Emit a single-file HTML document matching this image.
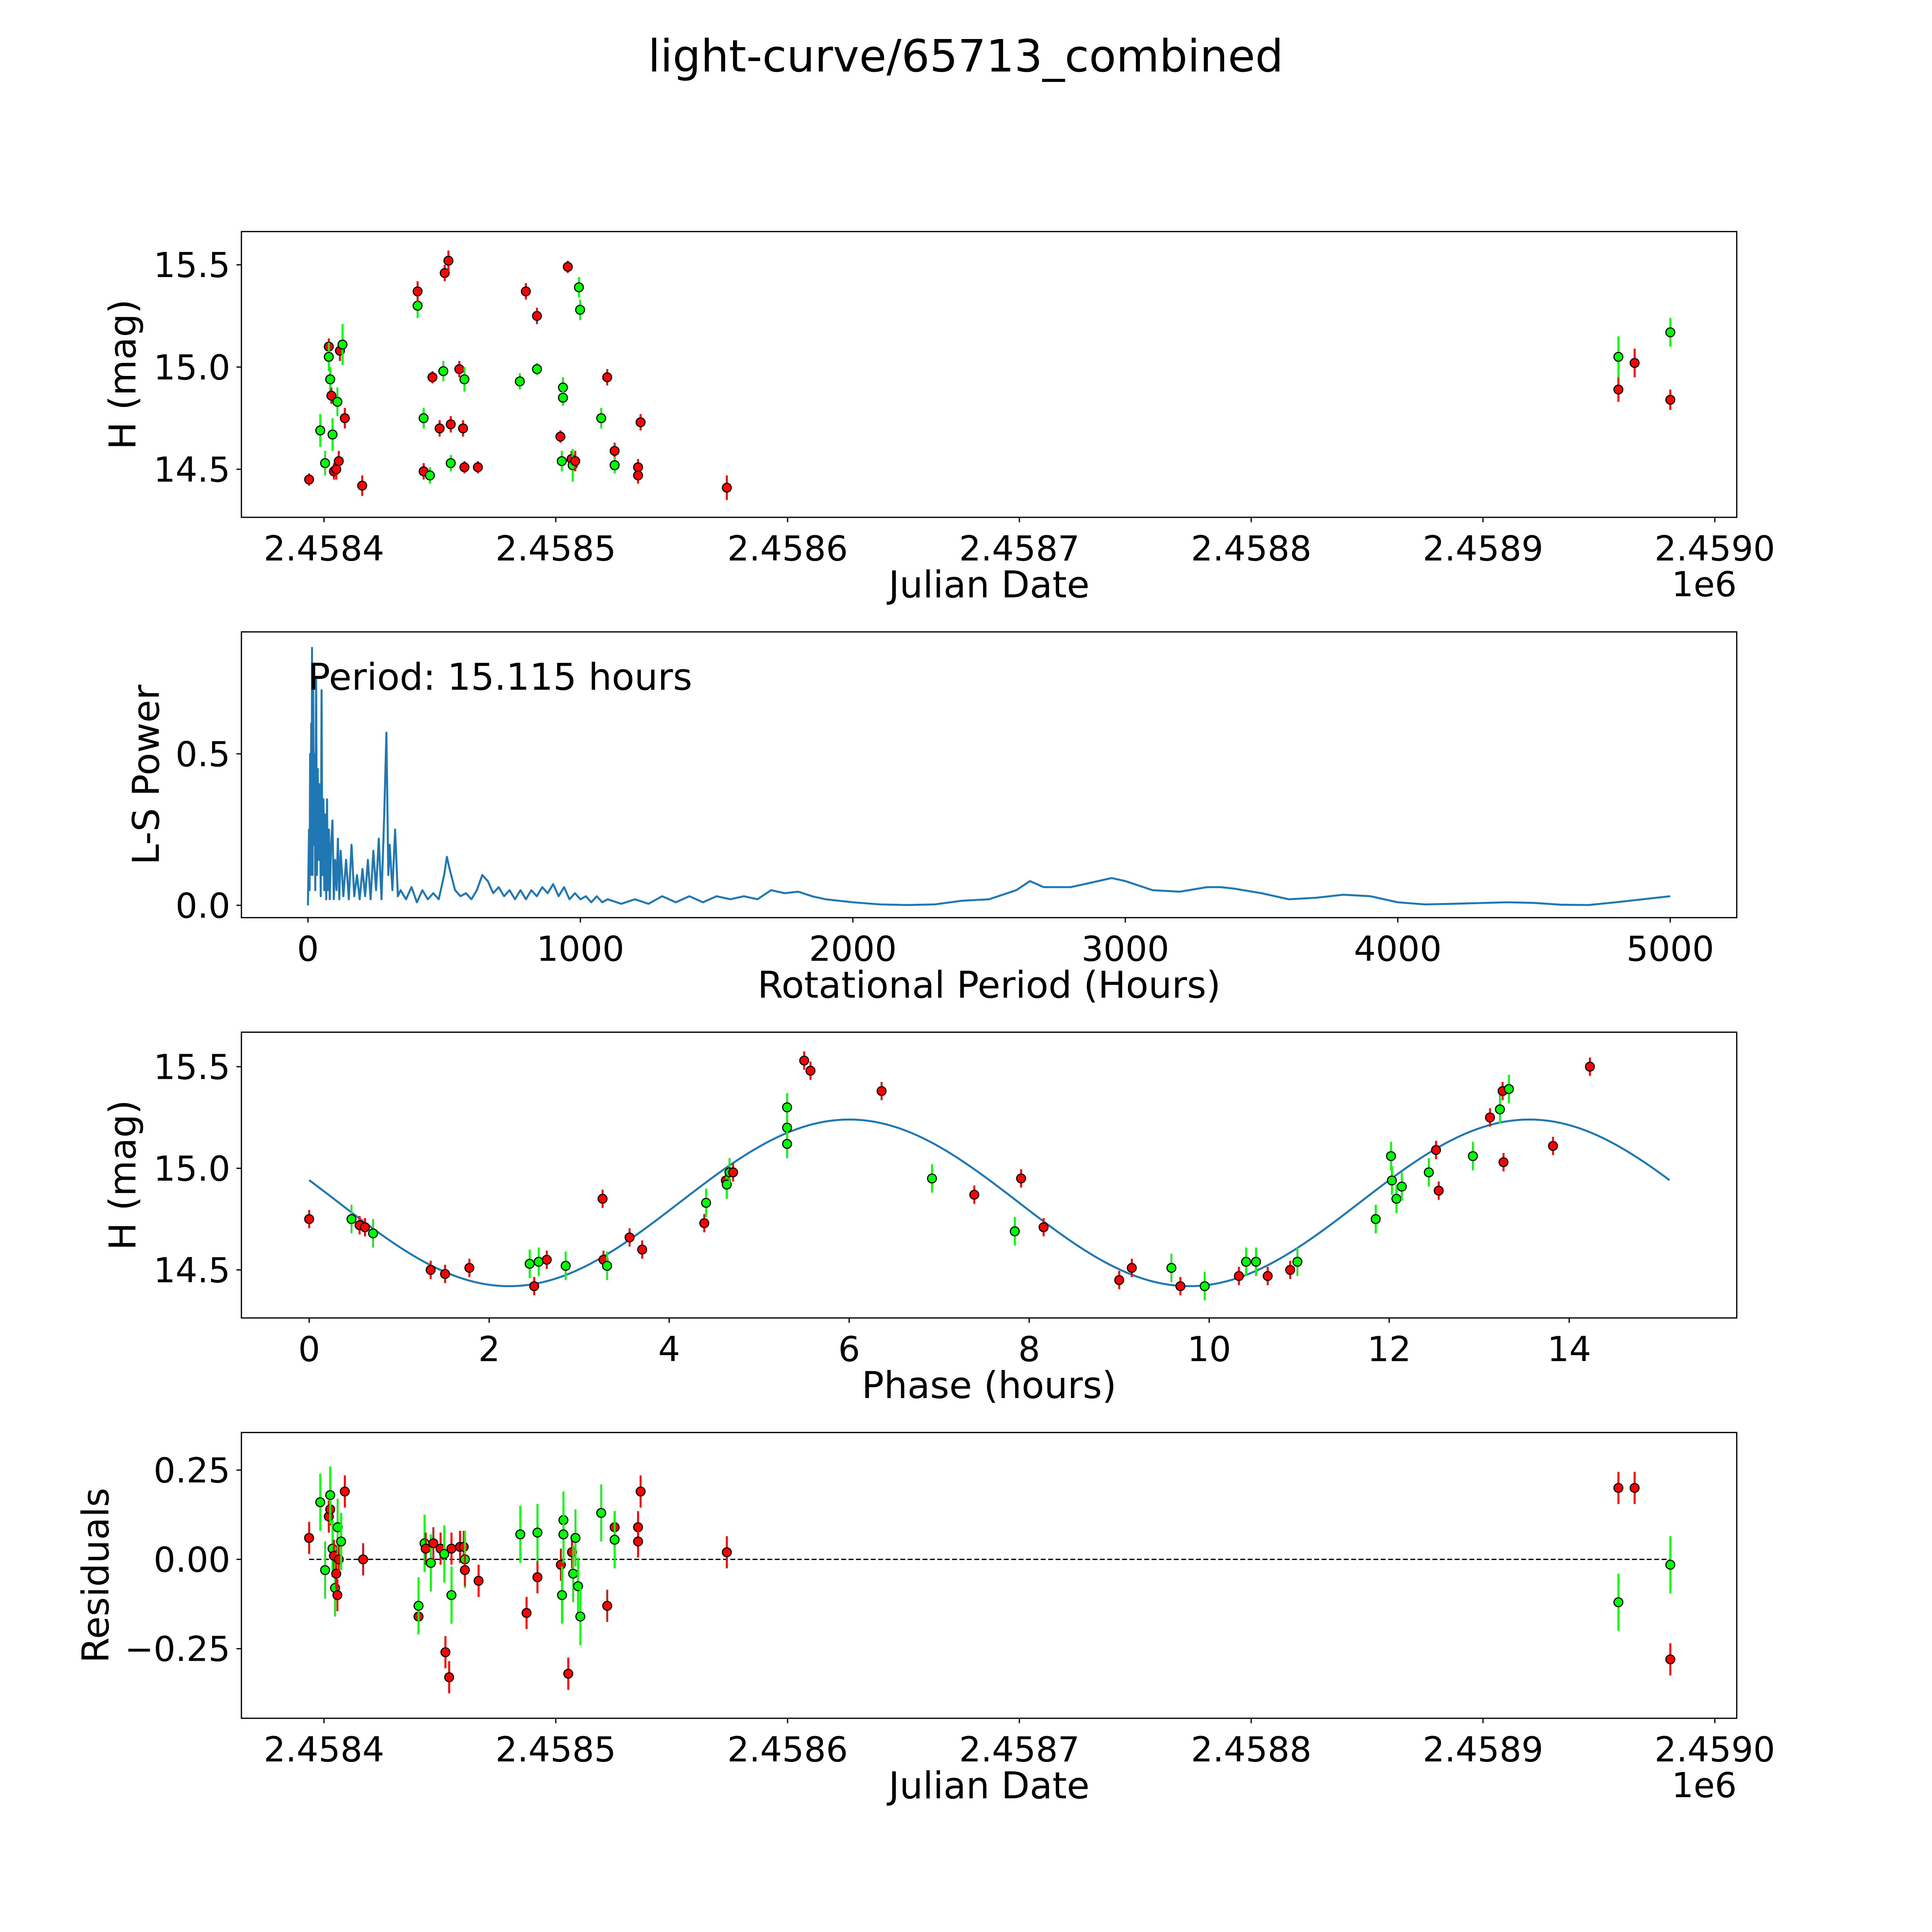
<!DOCTYPE html>
<html><head><meta charset="utf-8"><style>
html,body{margin:0;padding:0;background:#fff;overflow:hidden;}
svg{display:block;}
text{font-family:"DejaVu Sans","Liberation Sans",sans-serif;fill:#000;}
</style></head>
<body>
<svg id="fig" xmlns="http://www.w3.org/2000/svg" width="5400" height="5400" viewBox="0 0 1694 1694">
<rect x="0" y="0" width="1694" height="1694" fill="#fff"/>
<text x="784" y="58" font-size="36" text-anchor="middle">light-curve/65713_combined</text>
</svg>
<script>
// ---- Panel 1: light curve (JD offset from 2458400) ----
const lcJd = [-6.4,-1.6,0.5,2.1,2.1,2.7,3.2,3.7,4.3,5.3,5.8,6.4,6.9,8.0,9.0,16.5,40.4,40.4,43.0,43.0,45.7,46.8,49.9,51.5,52.1,53.7,54.7,54.7,58.4,60.0,60.6,60.6,66.4,84.5,87.1,91.9,91.9,102.0,102.6,103.1,103.1,105.2,106.8,107.3,108.4,110.0,110.5,119.6,122.2,125.4,125.4,135.5,135.5,136.6,173.8,558.4,558.4,565.4,580.8,580.8];
const lcMag = [14.45,14.69,14.53,15.10,15.05,14.94,14.86,14.67,14.49,14.50,14.83,14.54,15.08,15.11,14.75,14.42,15.30,15.37,14.75,14.49,14.47,14.95,14.70,14.98,15.46,15.52,14.72,14.53,14.99,14.70,14.94,14.51,14.51,14.93,15.37,14.99,15.25,14.66,14.54,14.90,14.85,15.49,14.55,14.52,14.54,15.39,15.28,14.75,14.95,14.59,14.52,14.51,14.47,14.73,14.41,15.05,14.89,15.02,15.17,14.84];
const lcErr = [0.03,0.08,0.06,0.04,0.07,0.06,0.04,0.08,0.04,0.05,0.07,0.05,0.05,0.1,0.05,0.05,0.06,0.05,0.05,0.04,0.04,0.03,0.04,0.05,0.04,0.05,0.04,0.04,0.04,0.04,0.06,0.03,0.03,0.04,0.04,0.03,0.04,0.03,0.05,0.05,0.04,0.03,0.04,0.08,0.05,0.05,0.05,0.05,0.04,0.04,0.04,0.04,0.04,0.04,0.06,0.1,0.06,0.07,0.07,0.05];
const lcBand = ['r','g','g','r','g','g','r','g','r','r','g','r','r','g','r','r','g','r','g','r','g','r','r','g','r','r','r','g','r','r','g','r','r','g','r','g','r','r','g','g','g','r','r','g','r','g','g','g','r','r','g','r','r','r','r','g','r','r','g','r'];
// ---- Panel 2: periodogram ----
const lsPeriod = [0,4,6,8,10,12,14,15,17,19,22,24,27,30,33,36,40,43,47,50,53,57,60,63,67,70,73,77,80,85,90,95,100,105,110,115,120,130,140,150,160,170,180,190,200,210,220,230,240,250,260,270,280,288,295,300,310,320,330,340,360,380,400,420,440,460,480,500,510,520,540,560,580,600,620,640,660,680,700,720,740,760,780,800,820,840,860,880,900,920,940,960,980,1000,1020,1040,1060,1080,1100,1150,1200,1250,1300,1350,1400,1450,1500,1550,1600,1650,1700,1750,1800,1850,1900,2000,2100,2200,2300,2400,2500,2600,2650,2700,2800,2900,2950,3000,3100,3200,3300,3350,3400,3500,3600,3700,3800,3900,4000,4100,4200,4400,4500,4600,4700,4800,5000];
const lsPower = [0,0.25,0.05,0.5,0.1,0.6,0.3,0.85,0.1,0.78,0.2,0.5,0.05,0.75,0.1,0.45,0.15,0.4,0.03,0.71,0.1,0.35,0.05,0.3,0.02,0.35,0.05,0.25,0.02,0.2,0.28,0.02,0.15,0.05,0.22,0.02,0.18,0.03,0.15,0.02,0.2,0.03,0.1,0.02,0.12,0.03,0.15,0.02,0.18,0.05,0.22,0.02,0.3,0.57,0.1,0.2,0.05,0.25,0.03,0.05,0.02,0.06,0.01,0.05,0.02,0.04,0.02,0.1,0.16,0.12,0.05,0.03,0.04,0.02,0.05,0.1,0.08,0.04,0.06,0.03,0.05,0.02,0.05,0.02,0.05,0.03,0.06,0.04,0.07,0.03,0.06,0.02,0.04,0.02,0.03,0.01,0.03,0.01,0.02,0.005,0.02,0.005,0.03,0.01,0.03,0.01,0.03,0.02,0.03,0.02,0.05,0.04,0.045,0.03,0.02,0.01,0.003,0.001,0.003,0.015,0.02,0.05,0.08,0.06,0.06,0.08,0.09,0.08,0.05,0.045,0.06,0.06,0.055,0.04,0.02,0.025,0.035,0.03,0.01,0.003,0.005,0.01,0.008,0.002,0.001,0.01,0.03];
// ---- Panel 3: phased ----
const phHour = [0,0.47,0.56,0.62,0.71,1.35,1.51,1.78,2.45,2.50,2.55,2.64,2.85,3.26,3.27,3.31,3.56,3.70,4.39,4.41,4.63,4.64,4.67,4.71,5.31,5.31,5.31,5.50,5.57,6.36,6.92,7.39,7.84,7.91,8.16,9.00,9.14,9.58,9.68,9.95,10.33,10.41,10.52,10.65,10.90,10.98,11.85,12.02,12.03,12.08,12.14,12.44,12.52,12.55,12.93,13.12,13.23,13.26,13.33,13.27,13.82,14.23];
const phMag = [14.75,14.75,14.72,14.71,14.68,14.50,14.48,14.51,14.53,14.42,14.54,14.55,14.52,14.85,14.55,14.52,14.66,14.60,14.73,14.83,14.94,14.92,14.98,14.98,15.20,15.30,15.12,15.53,15.48,15.38,14.95,14.87,14.69,14.95,14.71,14.45,14.51,14.51,14.42,14.42,14.47,14.54,14.54,14.47,14.50,14.54,14.75,15.06,14.94,14.85,14.91,14.98,15.09,14.89,15.06,15.25,15.29,15.38,15.39,15.03,15.11,15.50];
const phBand = ['r','g','r','r','g','r','r','r','g','r','g','r','g','r','r','g','r','r','r','g','r','g','g','r','g','g','g','r','r','r','g','r','g','r','r','r','r','g','r','g','r','g','g','r','r','g','g','g','g','g','g','g','r','r','g','r','g','r','g','r','r','r'];
const fitMean = 14.83, fitAmp = 0.41, fitPeak = 6.0, fitHalfPeriod = 7.5575, bestPeriod = 15.115;
// ---- Panel 4: residuals ----
const resJd = [-6.4,-1.6,0.5,2.1,2.7,2.7,3.7,4.3,4.8,5.3,5.8,5.9,6.4,7.4,9.0,16.9,40.8,40.8,43.4,43.9,46.1,47.2,50.3,51.9,52.4,54.0,55.0,55.0,58.7,60.3,60.8,60.8,66.7,84.7,87.4,92.1,92.1,102.2,102.7,103.3,103.3,105.4,107.0,107.5,108.5,109.6,110.6,119.6,122.2,125.4,125.4,135.5,135.5,136.6,173.8,558.4,558.4,565.4,580.8,580.8];
const resVal = [0.06,0.16,-0.03,0.12,0.14,0.18,0.03,0.01,-0.08,-0.04,-0.10,0.09,0.0,0.05,0.19,0.0,-0.16,-0.13,0.045,0.03,-0.01,0.045,0.03,0.015,-0.26,-0.33,0.03,-0.10,0.035,0.035,0.0,-0.03,-0.06,0.07,-0.15,0.075,-0.05,-0.015,-0.10,0.11,0.07,-0.32,0.02,-0.04,0.06,-0.075,-0.16,0.13,-0.13,0.09,0.055,0.09,0.05,0.19,0.02,0.2,-0.12,0.2,-0.015,-0.28];
const resBand = ['r','g','g','r','r','g','g','r','g','r','r','g','r','g','r','r','r','g','g','r','g','r','r','g','r','r','r','g','r','r','g','r','r','g','r','g','r','r','g','g','g','r','r','g','g','g','g','g','r','r','g','r','r','r','r','r','g','r','g','r'];

const NS='http://www.w3.org/2000/svg';
const svg=document.getElementById('fig');
function mk(tag,attrs,parent){const e=document.createElementNS(NS,tag);for(const k in attrs)e.setAttribute(k,attrs[k]);(parent||svg).appendChild(e);return e;}
function col(b){return b==='g'?'#00ff00':'#ff0000';}

const X0=196,X1=1410,TF=28,LF=30;
const jdX=d=>263+d*1.882;
function frame(top,bot,name){
  const r=mk('rect',{x:X0,y:top,width:X1-X0,height:bot-top,fill:'none',stroke:'#000','stroke-width':1});
  
  
}
function xtick(x,bot,label,name){
  mk('line',{x1:x,y1:bot,x2:x,y2:bot+4,stroke:'#000','stroke-width':1});
  const t=mk('text',{x:x,y:bot+35,'font-size':TF,'text-anchor':'middle'});t.textContent=label;
  
  
}
function ytick(y,label,name){
  mk('line',{x1:X0,y1:y,x2:X0-4,y2:y,stroke:'#000','stroke-width':1});
  const t=mk('text',{x:X0-9,y:y+10,'font-size':TF,'text-anchor':'end'});t.textContent=label;
  
  
}
function label(x,y,txt,rot,name){
  const t=mk('text',{x:x,y:y,'font-size':LF,'text-anchor':'middle'});
  if(rot)t.setAttribute('transform','rotate(-90 '+x+' '+y+')');
  t.textContent=txt;
  
  
}
function pt(x,y,yerrPx,b,name){
  const l=mk('line',{x1:x,y1:y-yerrPx,x2:x,y2:y+yerrPx,stroke:col(b),'stroke-width':1.6});
  
  
  const c=mk('circle',{cx:x,cy:y,r:3.6,fill:col(b),stroke:'#000','stroke-width':0.9});
  
  
}
function jdTicks(bot,pfx){
  ['2.4584','2.4585','2.4586','2.4587','2.4588','2.4589','2.4590'].forEach((s,i)=>xtick(jdX(i*100),bot,s,pfx+'-x-tick'));
  const t=mk('text',{x:1410,y:bot+64,'font-size':TF,'text-anchor':'end'});t.textContent='1e6';
  
  
}

// Panel 1
{const top=188,bot=420,my=h=>381-(h-14.5)*166;
 frame(top,bot,'lightcurve');
 [14.5,15.0,15.5].forEach(v=>ytick(my(v),v.toFixed(1),'lightcurve-y-tick'));
 jdTicks(bot,'lightcurve');
 label(803,485,'Julian Date',false,'lightcurve-x-title');
 label(110,304,'H (mag)',true,'lightcurve-y-title');
 for(let i=0;i<lcJd.length;i++)pt(jdX(lcJd[i]),my(lcMag[i]),lcErr[i]*166,lcBand[i],'lightcurve-point');
}
// Panel 2
{const top=513,bot=745,px=p=>250+p*0.2212,py=v=>735-v*246;
 frame(top,bot,'periodogram');
 [0,1000,2000,3000,4000,5000].forEach(v=>xtick(px(v),bot,String(v),'periodogram-x-tick'));
 [0,0.5].forEach(v=>ytick(py(v),v.toFixed(1),'periodogram-y-tick'));
 label(803,810,'Rotational Period (Hours)',false,'periodogram-x-title');
 label(129,629,'L-S Power',true,'periodogram-y-title');
 let d='';for(let i=0;i<lsPeriod.length;i++)d+=(i?'L':'M')+px(lsPeriod[i]).toFixed(2)+' '+py(lsPower[i]).toFixed(2);
 const p=mk('path',{d:d,fill:'none',stroke:'#1f77b4','stroke-width':1.6,'stroke-linejoin':'round'});
 
 
 const t=mk('text',{x:250,y:560,'font-size':LF});t.textContent='Period: '+bestPeriod+' hours';
 
 
}
// Panel 3
{const top=838,bot=1070,px=p=>251+p*73.07,py=h=>1031-(h-14.5)*165;
 frame(top,bot,'phase');
 [0,2,4,6,8,10,12,14].forEach(v=>xtick(px(v),bot,String(v),'phase-x-tick'));
 [14.5,15.0,15.5].forEach(v=>ytick(py(v),v.toFixed(1),'phase-y-tick'));
 label(803,1135,'Phase (hours)',false,'phase-x-title');
 label(110,954,'H (mag)',true,'phase-y-title');
 let d='';const N=300;
 for(let i=0;i<=N;i++){const p=bestPeriod*i/N;const h=fitMean+fitAmp*Math.cos(2*Math.PI*(p-fitPeak)/fitHalfPeriod);d+=(i?'L':'M')+px(p).toFixed(2)+' '+py(h).toFixed(2);}
 const c=mk('path',{d:d,fill:'none',stroke:'#1f77b4','stroke-width':1.6});
 
 
 for(let i=0;i<phHour.length;i++)pt(px(phHour[i]),py(phMag[i]),(phBand[i]==='g'?0.07:0.045)*165,phBand[i],'phase-point');
}
// Panel 4
{const top=1163,bot=1395,py=v=>1266-v*290;
 frame(top,bot,'residuals');
 [0.25,0,-0.25].forEach(v=>ytick(py(v),(v<0?'\u2212':'')+Math.abs(v).toFixed(2),'residuals-y-tick'));
 jdTicks(bot,'residuals');
 label(803,1460,'Julian Date',false,'residuals-x-title');
 label(88,1279,'Residuals',true,'residuals-y-title');
 const z=mk('line',{x1:jdX(-6.4),y1:py(0),x2:jdX(580.8),y2:py(0),stroke:'#000','stroke-width':1,'stroke-dasharray':'4 2'});
 
 
 for(let i=0;i<resJd.length;i++)pt(jdX(resJd[i]),py(resVal[i]),(resBand[i]==='g'?0.08:0.045)*290,resBand[i],'residual-point');
}
</script>
</body></html>
